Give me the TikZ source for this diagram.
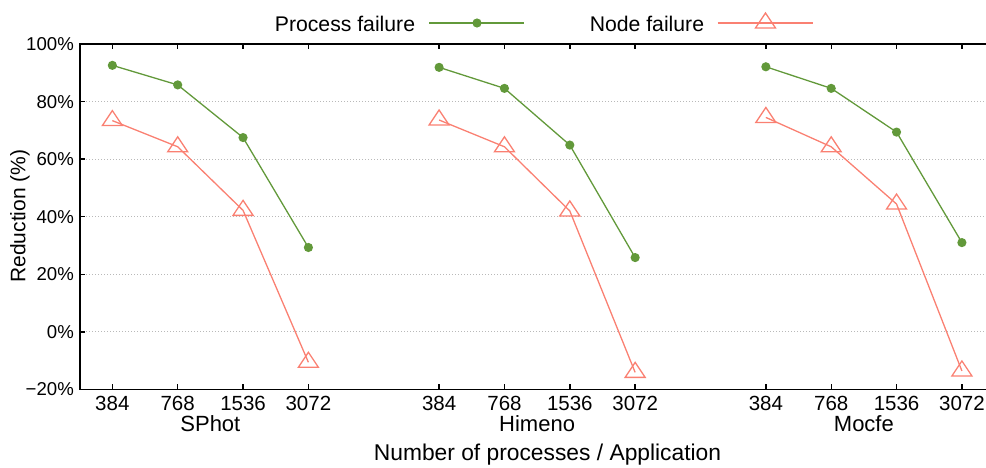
\documentclass[tikz,border=0pt]{standalone}
\usepackage{fontspec}
\setmainfont{Liberation Sans}
\definecolor{pcol}{RGB}{98,153,58}
\definecolor{ncol}{RGB}{250,128,114}
\definecolor{gridcol}{RGB}{185,185,185}
\tikzset{
  axisline/.style={line width=1.4pt, black, line cap=butt},
  gridline/.style={gridcol, line width=0.8pt, dash pattern=on 1pt off 2pt},
  pline/.style={pcol, line width=1.3pt},
  nline/.style={ncol, line width=1.3pt},
  pdot/.style={fill=pcol, draw=none},
  tri/.pic={\draw[ncol, line width=1.3pt, line join=miter] (0,10pt) -- (10pt,-5pt) -- (-10pt,-5pt) -- cycle;},
  ytick/.style={inner sep=0pt, anchor=base east, font=\fontsize{18.6}{20}\selectfont},
  xtick/.style={inner sep=0pt, anchor=base, font=\fontsize{20.5}{22}\selectfont},
  grouplabel/.style={inner sep=0pt, anchor=base, font=\fontsize{22}{24}\selectfont},
  titlelabel/.style={inner sep=0pt, font=\fontsize{22.8}{25}\selectfont},
  legendtext/.style={inner sep=0pt, anchor=base east, font=\fontsize{21.2}{23}\selectfont},
}
\begin{document}
\begin{tikzpicture}[x=1pt, y=1pt]
\useasboundingbox (0,0) rectangle (986,467);
\begin{scope}[shift={(47pt,135.2pt)}, x=65.35pt, y=2.8775pt]
  % grid
  \foreach \v in {0,20,40,60,80} {
    \draw[gridline] (0.505,\v) -- (14.37,\v);
  }
  % frame
  \draw[axisline] (14.37,100) -- (0.505,100) -- (0.505,-20) -- (14.37,-20);
  % x ticks
  \foreach \k in {1,2,3,4,6,7,8,9,11,12,13,14} {
    \draw[axisline] (\k,-20) -- ++(0,5pt);
    \draw[axisline] (\k,100) -- ++(0,-5pt);
  }
  % y ticks and labels
  \foreach \v/\t in {-20/{−20\%}, 0/{0\%}, 20/{20\%}, 40/{40\%}, 60/{60\%}, 80/{80\%}, 100/{100\%}} {
    \draw[axisline] (0.505,\v) -- ++(5pt,0);
    \path (0.505,\v) ++(-6pt,-6.5pt) node[ytick] (yl\v) {\t};
  }
  % x tick labels
  \foreach \g in {0,5,10} {
    \path (\g+1,-20) ++(0,-21pt) node[xtick] (xa\g) {384};
    \path (\g+2,-20) ++(0,-21pt) node[xtick] (xb\g) {768};
    \path (\g+3,-20) ++(0,-21pt) node[xtick] (xc\g) {1536};
    \path (\g+4,-20) ++(0,-21pt) node[xtick] (xd\g) {3072};
  }
  \path (2.5,-20) ++(0,-42.5pt) node[grouplabel] (gs) {SPhot};
  \path (7.5,-20) ++(0,-42.5pt) node[grouplabel] (gh) {Himeno};
  \path (12.5,-20) ++(0,-42.5pt) node[grouplabel] (gm) {Mocfe};

  % data: process failure
  \coordinate (p1) at (1,92.6);  \coordinate (p2) at (2,85.8);
  \coordinate (p3) at (3,67.5);  \coordinate (p4) at (4,29.3);
  \coordinate (p6) at (6,91.9);  \coordinate (p7) at (7,84.6);
  \coordinate (p8) at (8,64.9);  \coordinate (p9) at (9,25.8);
  \coordinate (p11) at (11,92.1); \coordinate (p12) at (12,84.6);
  \coordinate (p13) at (13,69.4); \coordinate (p14) at (14,31.0);
  % data: node failure
  \coordinate (n1) at (1,73.4);  \coordinate (n2) at (2,64.3);
  \coordinate (n3) at (3,42.2);  \coordinate (n4) at (4,-10.6);
  \coordinate (n6) at (6,73.6);  \coordinate (n7) at (7,64.3);
  \coordinate (n8) at (8,42.0);  \coordinate (n9) at (9,-14.1);
  \coordinate (n11) at (11,74.5); \coordinate (n12) at (12,64.3);
  \coordinate (n13) at (13,44.4); \coordinate (n14) at (14,-13.6);

  \draw[nline] (n1) -- (n2) -- (n3) -- (n4);
  \draw[nline] (n6) -- (n7) -- (n8) -- (n9);
  \draw[nline] (n11) -- (n12) -- (n13) -- (n14);
  \foreach \i in {1,2,3,4,6,7,8,9,11,12,13,14} {
    \pic at (n\i) {tri};
  }
  \draw[pline] (p1) -- (p2) -- (p3) -- (p4);
  \draw[pline] (p6) -- (p7) -- (p8) -- (p9);
  \draw[pline] (p11) -- (p12) -- (p13) -- (p14);
  \foreach \i in {1,2,3,4,6,7,8,9,11,12,13,14} {
    \fill[pdot] (p\i) circle[radius=4.6pt];
  }
\end{scope}

% axis titles
\node[titlelabel, anchor=base] (xlabel) at (547.5,7) {Number of processes / Application};
\node[titlelabel, font=\fontsize{21}{23}\selectfont, rotate=90] (ylabel) at (20,251) {Reduction (\%)};

% legend
\node[legendtext] (lp) at (415.3,435.6) {Process failure};
\coordinate (lpa) at (429,444);
\coordinate (lpb) at (524.4,444);
\coordinate (lpm) at (477,444);
\draw[pline] (lpa) -- (lpb);
\fill[pdot] (lpm) circle[radius=4.6pt];
\node[legendtext] (ln) at (704.3,435.6) {Node failure};
\coordinate (lna) at (717.7,444);
\coordinate (lnb) at (812.6,444);
\coordinate (lnm) at (765.5,444);
\draw[nline] (lna) -- (lnb);
\pic at (lnm) {tri};
\end{tikzpicture}
\end{document}
